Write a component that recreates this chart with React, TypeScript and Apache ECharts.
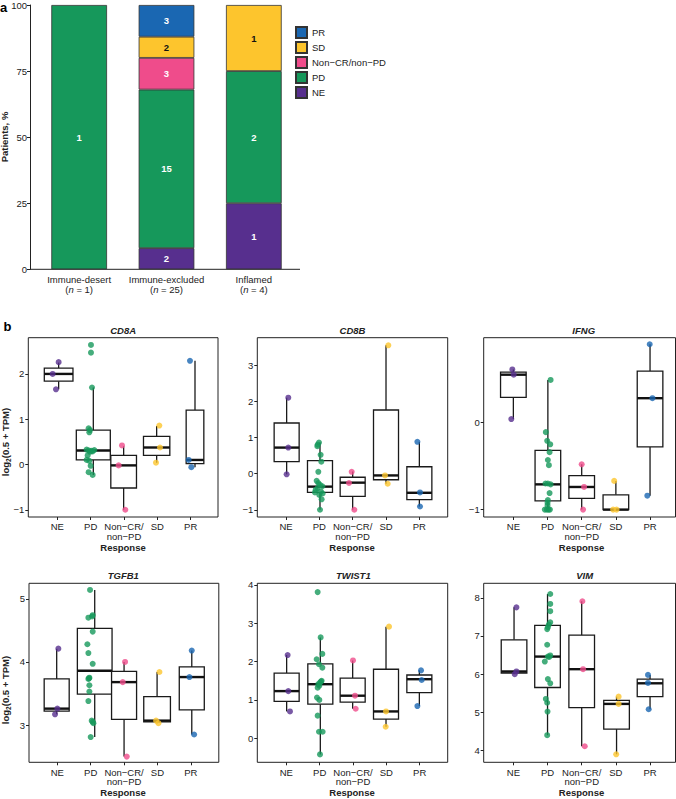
import React, { useEffect, useRef } from 'react';
import * as echarts from 'echarts';

const FONT = '"Liberation Sans", Arial, Helvetica, sans-serif';
const INK = '#222';

// ---------- Panel a data ----------
const phenotypes = ['Immune-desert', 'Immune-excluded', 'Inflamed'];
const phenotypeN = [1, 25, 4];
const countNE = [0, 2, 1];
const countPD = [1, 15, 2];
const countNonCR = [0, 3, 0];
const countSD = [0, 2, 1];
const countPR = [0, 3, 0];
const patientTicks = [0, 25, 50, 75, 100];

// ---------- Panel b data ----------
const responses = ['NE', 'PD', 'Non−CR/non−PD', 'SD', 'PR'];
const responseTickLabels = ['NE', 'PD', 'Non−CR/\nnon−PD', 'SD', 'PR'];
const responseColors = ['#572f8e', '#16985b', '#ef4c8b', '#fdc52d', '#1a67b2'];

// values per response group [NE, PD, NonCR, SD, PR]
const cd8aValues = [
  [2.26, 2.0, 1.66],
  [2.64, 2.47, 1.7, 0.8, 0.76, 0.71, 0.33, 0.32, 0.31, 0.3, 0.29, 0.28, 0.2, 0.1, 0.08, -0.03, -0.17, -0.23],
  [0.42, -0.02, -1.0],
  [0.86, 0.375, 0.04],
  [2.29, 0.1, -0.06],
];
const cd8aJitter = [
  [0.04, -0.14, -0.04],
  [0.01, 0.01, 0.04, -0.06, -0.02, -0.04, -0.12, 0.11, -0.06, 0.02, 0.06, -0.02, -0.09, -0.12, -0.04, 0, -0.06, 0.06],
  [-0.06, -0.16, 0.04],
  [0.06, 0.08, -0.04],
  [-0.02, -0.06, 0.02],
];
const cd8aBoxes = [
  [1.66, 1.84, 2.0, 2.13, 2.25],
  [-0.23, 0.1, 0.31, 0.76, 1.7],
  [-1.0, -0.52, -0.02, 0.2, 0.4],
  [0.04, 0.2, 0.375, 0.62, 0.85],
  [-0.06, 0.02, 0.1, 1.2, 2.29],
];
const cd8aTicks = [-1, 0, 1, 2];

const cd8bValues = [
  [2.1, 0.72, -0.02],
  [0.86, 0.8, 0.76, 0.52, 0.33, 0.05, -0.2, -0.26, -0.31, -0.35, -0.4, -0.45, -0.5, -0.52, -0.55, -0.59, -0.71, -1.0],
  [0.05, -0.26, -1.0],
  [3.55, -0.05, -0.28],
  [0.88, -0.52, -0.91],
];
const cd8bJitter = [
  [0.07, 0.07, 0.02],
  [-0.01, -0.05, -0.06, 0.04, 0.06, -0.03, -0.08, -0.03, 0.02, 0.09, -0.05, -0.11, 0.05, -0.13, 0.1, 0, 0.07, 0.02],
  [-0.03, -0.11, 0.05],
  [0.07, -0.03, 0.05],
  [-0.06, 0.02, 0.02],
];
const cd8bBoxes = [
  [-0.02, 0.33, 0.72, 1.4, 2.1],
  [-1.0, -0.52, -0.36, 0.36, 0.86],
  [-1.0, -0.63, -0.25, -0.1, 0.06],
  [-0.28, -0.17, -0.05, 1.76, 3.55],
  [-0.91, -0.72, -0.53, 0.19, 0.88],
];
const cd8bTicks = [-1, 0, 1, 2, 3];

const ifngValues = [
  [0.61, 0.55, 0.04],
  [0.49, -0.11, -0.21, -0.25, -0.34, -0.43, -0.49, -0.7, -0.7, -0.71, -0.81, -0.89, -0.92, -0.95, -1.0, -1.0, -1.0, -1.0],
  [-0.48, -0.74, -1.0],
  [-0.67, -1.0, -1.0],
  [0.9, 0.28, -0.84],
];
const ifngJitter = [
  [-0.03, 0.01, -0.06],
  [0.09, -0.05, -0.01, 0.08, 0.06, 0.01, 0.04, -0.06, 0.01, 0.09, 0.06, 0.01, 0, 0, -0.08, -0.02, 0.03, 0.07],
  [0, 0.07, 0.04],
  [-0.05, -0.08, 0.02],
  [-0.01, 0.07, -0.08],
];
const ifngBoxes = [
  [0.04, 0.29, 0.55, 0.58, 0.61],
  [-1.0, -0.9, -0.71, -0.32, 0.49],
  [-1.0, -0.87, -0.74, -0.61, -0.48],
  [-1.0, -1.0, -1.0, -0.83, -0.67],
  [-0.84, -0.28, 0.28, 0.59, 0.9],
];
const ifngTicks = [-1, 0];

const tgfb1Values = [
  [4.21, 3.26, 3.17],
  [5.14, 4.74, 4.72, 4.7, 4.48, 4.28, 4.14, 3.97, 3.75, 3.74, 3.73, 3.63, 3.53, 3.38, 3.07, 3.05, 3.03, 2.81],
  [4.0, 3.68, 2.5],
  [3.84, 3.07, 3.03],
  [4.18, 3.76, 2.85],
];
const tgfb1Jitter = [
  [0.03, 0, -0.07],
  [-0.02, 0.06, 0.04, -0.07, 0.06, -0.1, -0.07, 0.06, -0.04, -0.05, -0.07, -0.04, -0.04, -0.07, 0.03, 0.06, 0.08, 0],
  [0.03, -0.04, 0.08],
  [0.06, -0.04, 0.03],
  [0.03, -0.04, 0.1],
];
const tgfb1Boxes = [
  [3.17, 3.22, 3.26, 3.73, 4.21],
  [2.81, 3.49, 3.86, 4.53, 5.14],
  [2.5, 3.09, 3.68, 3.85, 4.0],
  [3.03, 3.05, 3.07, 3.45, 3.84],
  [2.85, 3.24, 3.76, 3.92, 4.18],
];
const tgfb1Ticks = [3, 4, 5];

const twist1Values = [
  [2.17, 1.23, 0.7],
  [3.81, 2.63, 2.2, 2.06, 1.93, 1.84, 1.5, 1.48, 1.45, 1.41, 1.37, 1.32, 1.06, 1.0, 0.59, 0.17, 0.17, -0.42],
  [2.03, 1.11, 0.77],
  [2.91, 0.7, 0.3],
  [1.77, 1.52, 0.84],
];
const twist1Jitter = [
  [0.04, 0.06, 0.11],
  [-0.06, 0.03, 0.08, -0.09, -0.02, 0.08, 0.06, 0.04, 0.01, -0.04, -0.01, -0.06, -0.08, -0.01, -0.06, -0.02, 0.09, 0.01],
  [0, 0.06, 0.08],
  [0.08, -0.01, -0.02],
  [0.04, 0.06, -0.07],
];
const twist1Boxes = [
  [0.7, 0.96, 1.23, 1.7, 2.17],
  [-0.42, 0.89, 1.41, 1.94, 2.63],
  [0.77, 0.94, 1.11, 1.57, 2.03],
  [0.3, 0.5, 0.7, 1.8, 2.91],
  [0.84, 1.19, 1.54, 1.65, 1.77],
];
const twist1Ticks = [0, 1, 2, 3, 4];

const vimValues = [
  [7.75, 6.07, 6.0],
  [8.1, 7.84, 7.65, 7.36, 7.3, 7.23, 7.18, 6.77, 6.49, 6.46, 6.45, 6.33, 5.87, 5.76, 5.35, 5.25, 5.02, 4.4],
  [7.91, 6.13, 4.11],
  [5.41, 5.22, 3.9],
  [5.98, 5.77, 5.08],
];
const vimJitter = [
  [0.09, 0.09, 0.04],
  [0.08, 0.08, 0.08, 0.08, 0.04, 0.01, -0.01, -0.01, 0.08, 0.01, 0.05, -0.08, 0.01, 0.08, -0.05, -0.01, 0, -0.01],
  [0.02, 0.04, 0.09],
  [0.08, 0.08, 0.01],
  [-0.06, -0.06, -0.04],
];
const vimBoxes = [
  [6.0, 6.03, 6.07, 6.9, 7.75],
  [4.4, 5.65, 6.46, 7.28, 8.1],
  [4.11, 5.12, 6.13, 7.02, 7.91],
  [3.9, 4.56, 5.22, 5.31, 5.41],
  [5.08, 5.41, 5.76, 5.87, 5.98],
];
const vimTicks = [4, 5, 6, 7, 8];

// ---------- layout (positions / sizes only) ----------
type Panel = {
  gene: string; values: number[][]; jitter: number[][]; boxes: number[][]; ticks: number[];
  yMin: number; yMax: number; left: number; top: number; width: number; height: number;
  xMin: number; xMax: number; boxShift: number[]; boxWidth: number[];
  titleX: number; titleY: number; respX: number; respY: number;
};

const W75 = [0.75, 0.75, 0.75, 0.75, 0.75];
const panels: Panel[] = [
  { gene: 'CD8A', values: cd8aValues, jitter: cd8aJitter, boxes: cd8aBoxes, ticks: cd8aTicks, yMin: -1.16, yMax: 2.8,
    left: 28.3, top: 337.7, width: 189.7, height: 179.3, xMin: -0.87, xMax: 4.82,
    boxShift: [0.04, 0.08, -0.01, -0.02, 0.13], boxWidth: [0.86, 1.02, 0.77, 0.79, 0.53],
    titleX: 123.2, titleY: 330, respX: 123, respY: 547.7 },
  { gene: 'CD8B', values: cd8bValues, jitter: cd8bJitter, boxes: cd8bBoxes, ticks: cd8bTicks, yMin: -1.2, yMax: 3.76,
    left: 257.3, top: 337.7, width: 190.4, height: 179.3, xMin: -0.86, xMax: 4.85,
    boxShift: [0.02, 0.02, 0, 0, 0], boxWidth: W75,
    titleX: 352.5, titleY: 330, respX: 352, respY: 547.7 },
  { gene: 'IFNG', values: ifngValues, jitter: ifngJitter, boxes: ifngBoxes, ticks: ifngTicks, yMin: -1.085, yMax: 0.975,
    left: 483.7, top: 337.7, width: 191.8, height: 179.3, xMin: -0.868, xMax: 4.745,
    boxShift: [0, 0.01, 0, 0, 0], boxWidth: W75,
    titleX: 583.7, titleY: 330, respX: 581.5, respY: 547.7 },
  { gene: 'TGFB1', values: tgfb1Values, jitter: tgfb1Jitter, boxes: tgfb1Boxes, ticks: tgfb1Ticks, yMin: 2.41, yMax: 5.245,
    left: 29, top: 583.3, width: 189.8, height: 179, xMin: -0.85, xMax: 4.84,
    boxShift: [-0.02, 0.12, 0, -0.01, 0.03], boxWidth: [0.75, 1.04, 0.75, 0.8, 0.75],
    titleX: 123.3, titleY: 575, respX: 123, respY: 792.7 },
  { gene: 'TWIST1', values: twist1Values, jitter: twist1Jitter, boxes: twist1Boxes, ticks: twist1Ticks, yMin: -0.626, yMax: 4.04,
    left: 257.3, top: 583.3, width: 190.4, height: 179, xMin: -0.87, xMax: 4.84,
    boxShift: [0.01, 0.02, -0.01, -0.01, -0.01], boxWidth: W75,
    titleX: 353.3, titleY: 575, respX: 352, respY: 792.7 },
  { gene: 'VIM', values: vimValues, jitter: vimJitter, boxes: vimBoxes, ticks: vimTicks, yMin: 3.69, yMax: 8.38,
    left: 483.7, top: 583.3, width: 191.8, height: 179, xMin: -0.868, xMax: 4.745,
    boxShift: [0.02, 0, 0, 0.02, 0], boxWidth: W75,
    titleX: 584.7, titleY: 575, respX: 581.5, respY: 792.7 },
];

const minusFmt = (v: number) => (v < 0 ? '−' + Math.abs(v) : String(v));

function buildOption(): any {
  const grid: any[] = [{ left: 35.5, top: 3.3, width: 262, height: 266 }];
  const xAxis: any[] = [{
    type: 'category', gridIndex: 0, data: phenotypes,
    axisLine: { show: false, onZero: false }, axisTick: { show: false },
    axisLabel: {
      interval: 0, hideOverlap: false,
      formatter: (v: string, idx: number) => `${v}\n({i|n} = ${phenotypeN[idx]})`,
      fontSize: 9.5, lineHeight: 10, color: INK, fontFamily: FONT, margin: 5,
      rich: { i: { fontStyle: 'italic', fontSize: 9.5, color: INK, fontFamily: FONT, lineHeight: 10 } },
    },
  }];
  const yAxis: any[] = [{
    type: 'value', gridIndex: 0, min: 0, max: 100, interval: 25, offset: 5.5,
    axisLine: { show: true, onZero: false, lineStyle: { color: INK, width: 1 } },
    axisTick: { show: true, length: 3, lineStyle: { color: INK } },
    axisLabel: { fontSize: 9.5, color: INK, fontFamily: FONT, margin: 3, customValues: patientTicks },
    splitLine: { show: false },
  }];

  const countsByResponse = [countNE, countPD, countNonCR, countSD, countPR];
  const series: any[] = countsByResponse.map((counts, k) => ({
    type: 'bar', name: responses[k], stack: 'a', xAxisIndex: 0, yAxisIndex: 0, barWidth: 55.7,
    data: counts.map((c, j) => (c > 0 ? (c / phenotypeN[j]) * 100 : '-')),
    itemStyle: { color: responseColors[k], borderColor: '#333', borderWidth: 0.8 },
    label: {
      show: true, position: 'inside', formatter: (p: any) => String(counts[p.dataIndex]),
      color: k === 3 ? '#111' : '#fff', fontWeight: 'bold', fontSize: 9.5, fontFamily: FONT,
    },
  }));

  const graphic: any[] = [
    { type: 'line', shape: { x1: 30, y1: 269.3, x2: 300, y2: 269.3 }, style: { stroke: INK, lineWidth: 1 } },
    { type: 'text', x: 0, y: 7, style: { text: 'a', font: `bold 13px ${FONT}`, fill: '#000', align: 'left', verticalAlign: 'middle' } },
    { type: 'text', x: 3.5, y: 326, style: { text: 'b', font: `bold 13px ${FONT}`, fill: '#000', align: 'left', verticalAlign: 'middle' } },
    { type: 'text', x: 4.8, y: 137, rotation: Math.PI / 2,
      style: { text: 'Patients, %', font: `bold 9.5px ${FONT}`, fill: INK, align: 'center', verticalAlign: 'middle' } },
  ];

  [442, 690].forEach((cy) => {
    graphic.push({
      type: 'text', x: 5.5, y: cy, rotation: Math.PI / 2,
      style: {
        text: '{a|log}{s|2}{a|(0.5 + TPM)}', align: 'center', verticalAlign: 'middle',
        rich: {
          a: { fontSize: 9.5, fontWeight: 'bold', fontFamily: FONT, fill: INK, lineHeight: 12, verticalAlign: 'middle' },
          s: { fontSize: 6.5, fontWeight: 'bold', fontFamily: FONT, fill: INK, lineHeight: 12, verticalAlign: 'bottom' },
        },
      },
    });
  });

  panels.forEach((p, idx) => {
    const gi = idx + 1;
    grid.push({ left: p.left, top: p.top, width: p.width, height: p.height, show: true,
      borderColor: INK, borderWidth: 1, backgroundColor: '#fff' });
    xAxis.push({
      type: 'value', gridIndex: gi, min: p.xMin, max: p.xMax, position: 'bottom',
      axisLine: { show: false, onZero: false }, splitLine: { show: false },
      axisTick: { show: true, length: 3, lineStyle: { color: INK }, customValues: [0, 1, 2, 3, 4] },
      axisLabel: {
        customValues: [0, 1, 2, 3, 4], formatter: (v: number) => responseTickLabels[Math.round(v)] ?? '',
        fontSize: 9.5, lineHeight: 9.5, color: INK, fontFamily: FONT, margin: 5, hideOverlap: false,
      },
    });
    yAxis.push({
      type: 'value', gridIndex: gi, min: p.yMin, max: p.yMax, position: 'left',
      axisLine: { show: false, onZero: false }, splitLine: { show: false },
      axisTick: { show: true, length: 3, lineStyle: { color: INK }, customValues: p.ticks },
      axisLabel: { customValues: p.ticks, formatter: minusFmt, fontSize: 9.5, color: INK, fontFamily: FONT, margin: 4 },
    });

    series.push({
      type: 'custom', name: p.gene + ' box', xAxisIndex: gi, yAxisIndex: gi, z: 2,
      encode: { x: 0, y: [1, 5] },
      data: p.boxes.map((b, i) => [i + p.boxShift[i], b[0], b[1], b[2], b[3], b[4], p.boxWidth[i]]),
      renderItem: (_params: any, api: any) => {
        const x = api.value(0);
        const lo = api.value(1), q1 = api.value(2), med = api.value(3), q3 = api.value(4), hi = api.value(5);
        const w = api.value(6);
        const pLo = api.coord([x, lo]);
        const pHi = api.coord([x, hi]);
        const pQ1 = api.coord([x - w / 2, q1]);
        const pQ3 = api.coord([x + w / 2, q3]);
        const pMedL = api.coord([x - w / 2, med]);
        const pMedR = api.coord([x + w / 2, med]);
        const stroke = { stroke: '#1a1a1a', lineWidth: 1.3 };
        return {
          type: 'group',
          children: [
            { type: 'line', shape: { x1: pLo[0], y1: pLo[1], x2: pLo[0], y2: pQ1[1] }, style: stroke },
            { type: 'line', shape: { x1: pHi[0], y1: pHi[1], x2: pHi[0], y2: pQ3[1] }, style: stroke },
            { type: 'rect', shape: { x: pQ1[0], y: pQ3[1], width: pQ3[0] - pQ1[0], height: pQ1[1] - pQ3[1] },
              style: { fill: '#fff', stroke: '#1a1a1a', lineWidth: 1.3 } },
            { type: 'line', shape: { x1: pMedL[0], y1: pMedL[1], x2: pMedR[0], y2: pMedR[1] },
              style: { stroke: '#111', lineWidth: 2.4 } },
          ],
        };
      },
    });

    const pts: any[] = [];
    p.values.forEach((vals, g) => {
      vals.forEach((v, j) => {
        pts.push({ value: [g + p.jitter[g][j], v], itemStyle: { color: responseColors[g] } });
      });
    });
    series.push({
      type: 'scatter', name: p.gene + ' points', xAxisIndex: gi, yAxisIndex: gi, z: 3,
      symbol: 'circle', symbolSize: 6, data: pts, silent: true,
    });

    graphic.push({ type: 'text', x: p.titleX, y: p.titleY,
      style: { text: p.gene, font: `italic bold 9.5px ${FONT}`, fill: INK, align: 'center', verticalAlign: 'middle' } });
    graphic.push({ type: 'text', x: p.respX, y: p.respY,
      style: { text: 'Response', font: `bold 9.5px ${FONT}`, fill: INK, align: 'center', verticalAlign: 'middle' } });
  });

  return {
    animation: false,
    backgroundColor: '#fff',
    textStyle: { fontFamily: FONT },
    grid, xAxis, yAxis, series, graphic,
    legend: {
      data: ['PR', 'SD', 'Non−CR/non−PD', 'PD', 'NE'],
      orient: 'vertical', left: 295, top: 26, padding: 0, itemWidth: 11, itemHeight: 11, itemGap: 2,
      icon: 'rect', selectedMode: false,
      textStyle: { fontSize: 9.5, lineHeight: 11, color: INK, fontFamily: FONT },
    },
  };
}

export default function App() {
  const ref = useRef<HTMLDivElement>(null);
  useEffect(() => {
    if (!ref.current) return;
    const chart = echarts.init(ref.current, null, { renderer: 'svg' });
    chart.setOption(buildOption());
    return () => chart.dispose();
  }, []);
  return (
    <div
      ref={ref}
      style={{ position: 'absolute', left: 0, top: 0, width: 676, height: 799, background: '#fff' }}
    />
  );
}
